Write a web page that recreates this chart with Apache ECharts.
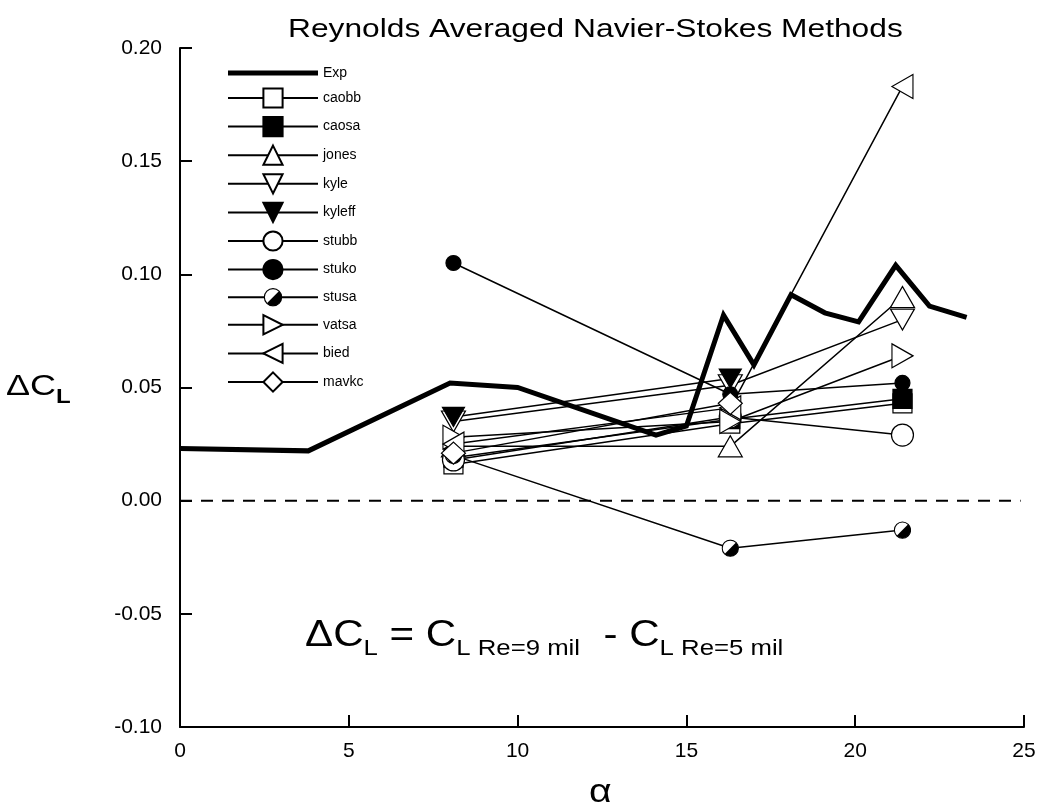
<!DOCTYPE html>
<html>
<head>
<meta charset="utf-8">
<script src="https://cdn.jsdelivr.net/npm/echarts@6/dist/echarts.min.js"></script>
<style>html,body{margin:0;padding:0;background:#fff;}#c{width:1048px;height:810px;}</style>
</head>
<body>
<div id="c"></div>
<script>
// ---- data ----
const expAlpha = [0, 3.8, 8.0, 10.0, 14.1, 15.0, 16.1, 17.0, 18.1, 19.1, 20.1, 21.2, 22.2, 23.3];
const expDCL   = [0.023, 0.022, 0.052, 0.050, 0.029, 0.033, 0.082, 0.060, 0.091, 0.083, 0.079, 0.104, 0.086, 0.081];
const cfdAlpha = [8.1, 16.3, 21.4];
const caobb  = [0.016, 0.034, 0.043];
const caosa  = [0.019, 0.036, 0.045];
const jones  = [0.024, 0.024, 0.090];
const kyle   = [0.035, 0.051, 0.080];
const kyleff = [0.037, 0.054];
const stubb  = [0.018, 0.037, 0.029];
const stuko  = [0.105, 0.047, 0.052];
const stusa  = [0.020, -0.021, -0.013];
const vatsa  = [0.028, 0.035, 0.064];
const bied   = [0.025, 0.041, 0.183];
const mavkc  = [0.021, 0.043];
const yTicks = [-0.10, -0.05, 0.00, 0.05, 0.10, 0.15, 0.20];
const xTicks = [0, 5, 10, 15, 20, 25];

function pts(xs, ys) { return ys.map((v, i) => [xs[i], v]); }

const halfSvg = '<svg xmlns="http://www.w3.org/2000/svg" width="40" height="40" viewBox="0 0 20 20">' +
  '<circle cx="10" cy="10" r="9" fill="white" stroke="black" stroke-width="1.2"/>' +
  '<path d="M16.364 3.636 A9 9 0 0 1 3.636 16.364 Z" fill="black"/></svg>';
const halfSymbol = 'image://data:image/svg+xml;charset=utf-8,' + encodeURIComponent(halfSvg);

function cfd(name, vals, symbol, size, fill, rot) {
  return {
    name: name, type: 'line', data: pts(cfdAlpha, vals),
    symbol: symbol, symbolSize: size, symbolRotate: rot || 0,
    showAllSymbol: true, z: 3,
    lineStyle: { color: '#000', width: 1.5 },
    itemStyle: { color: fill, borderColor: '#000', borderWidth: 1.2 },
    emphasis: { disabled: true }, animation: false
  };
}

const series = [
  { name: 'Exp', type: 'line', data: pts(expAlpha, expDCL), symbol: 'none', z: 4,
    lineStyle: { color: '#000', width: 5, join: 'miter' }, itemStyle: { color: '#000' }, animation: false },
  cfd('caobb', caobb, 'rect', 19, '#fff'),
  cfd('caosa', caosa, 'rect', 19, '#000'),
  cfd('jones', jones, 'triangle', [24, 21], '#fff'),
  cfd('kyle', kyle, 'triangle', [24, 21], '#fff', 180),
  cfd('kyleff', kyleff, 'triangle', [22, 19], '#000', 180),
  cfd('stubb', stubb, 'circle', 22, '#fff'),
  cfd('stuko', stuko, 'circle', 15, '#000'),
  cfd('stusa', stusa, halfSymbol, 18, '#000'),
  cfd('vatsa', vatsa, 'triangle', [24, 21], '#fff', -90),
  cfd('bied', bied, 'triangle', [24, 21], '#fff', 90),
  cfd('mavkc', mavkc, 'diamond', [24, 22], '#fff'),
  { name: 'zero', type: 'line', data: [[0, 0], [24.9, 0]], symbol: 'none', z: 1,
    lineStyle: { color: '#000', width: 2, type: [12, 9] }, animation: false, silent: true }
];

const FF = '"Liberation Sans", Arial, sans-serif';
const chart = echarts.init(document.getElementById('c'), null, { renderer: 'canvas' });
chart.setOption({
  backgroundColor: '#fff',
  animation: false,
  grid: { left: 180, right: 24, top: 48, bottom: 83, containLabel: false },
  legend: {
    data: [{ name: 'Exp', icon: 'path://M0 0 H18 V1 H0 Z', itemStyle: { color: '#000' } },
      'caobb','caosa','jones','kyle','kyleff','stubb','stuko','stusa','vatsa','bied','mavkc'],
    orient: 'vertical', left: 222, top: 61, itemWidth: 90, itemHeight: 24, itemGap: 7.4,
    textStyle: { fontFamily: 'Liberation Sans, Arial, sans-serif', fontSize: 14, color: '#000' },
    selectedMode: false, symbolRotate: 'inherit'
  },
  xAxis: {
    type: 'value', min: 0, max: 25, interval: 5,
    axisLine: { onZero: false, lineStyle: { color: '#000', width: 2 } },
    axisTick: { inside: true, length: 12, lineStyle: { color: '#000', width: 2 } },
    axisLabel: { color: '#000', fontSize: 21, fontFamily: 'Liberation Sans, Arial, sans-serif', margin: 14,
      formatter: v => xTicks.includes(v) ? String(v) : '' },
    splitLine: { show: false }
  },
  yAxis: {
    type: 'value', min: -0.1, max: 0.2, interval: 0.05,
    axisLine: { show: true, onZero: false, lineStyle: { color: '#000', width: 2 } },
    axisTick: { show: true, inside: true, length: 12, lineStyle: { color: '#000', width: 2 } },
    axisLabel: { color: '#000', fontSize: 21, fontFamily: 'Liberation Sans, Arial, sans-serif', margin: 18,
      formatter: v => { const t = yTicks.find(k => Math.abs(k - v) < 1e-9); return t === undefined ? '' : t.toFixed(2); } },
    splitLine: { show: false }
  },
  graphic: [
    { type: 'text', x: 288, y: 17, scaleX: 1.22, style: { text: 'Reynolds Averaged Navier-Stokes Methods',
      font: '26px ' + FF, fill: '#000' } },
    { type: 'text', x: 589, y: 776, scaleX: 1.15, style: { text: 'α', font: '34px ' + FF, fill: '#000' } },
    { type: 'text', x: 6, y: 367, scaleX: 1.2, style: { text: '{b|ΔC}{s|L}', rich: {
        b: { fontSize: 30, fontFamily: 'Liberation Sans, Arial, sans-serif', fill: '#000', lineHeight: 40, verticalAlign: 'middle' },
        s: { fontSize: 20, fontFamily: 'Liberation Sans, Arial, sans-serif', fill: '#000', fontWeight: 'bold', lineHeight: 40, verticalAlign: 'bottom' } } } },
    { type: 'text', x: 305, y: 612, scaleX: 1.17, style: { text: '{b|ΔC}{s|L}{b| = C}{s|L Re=9 mil}{b|  - C}{s|L Re=5 mil}', rich: {
        b: { fontSize: 36, fontFamily: 'Liberation Sans, Arial, sans-serif', fill: '#000', lineHeight: 48, verticalAlign: 'middle' },
        s: { fontSize: 22, fontFamily: 'Liberation Sans, Arial, sans-serif', fill: '#000', lineHeight: 48, verticalAlign: 'bottom' } } } }
  ],
  series: series
});
</script>
</body>
</html>
